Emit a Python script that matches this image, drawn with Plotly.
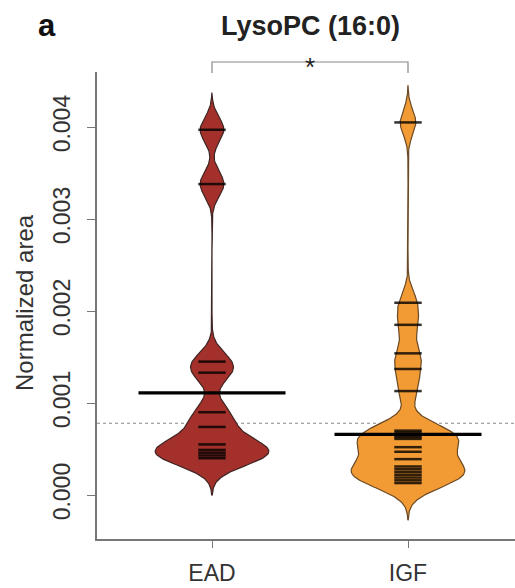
import numpy as np
import plotly.graph_objects as go

categories = ["EAD", "IGF"]
ead_values = [0.00397, 0.00338, 0.00145, 0.00133, 0.00090, 0.00074, 0.00055,
              0.00049, 0.00046, 0.00043, 0.00040]
igf_values = [0.00405, 0.00209, 0.00185, 0.00154, 0.00137, 0.00113,
              0.00070, 0.00068, 0.00065, 0.00063, 0.00061,
              0.00052, 0.00047, 0.00039,
              0.00031, 0.00028, 0.00025, 0.00022, 0.00019, 0.00016, 0.00013]
group_means = [0.00111, 0.00066]
overall_mean = 0.00078
fill_colors = ["#A3302A", "#F29A33"]
border_colors = ["#3e2424", "#6a4a26"]
y_tick_vals = [0.000, 0.001, 0.002, 0.003, 0.004]
y_tick_text = ["0.000", "0.001", "0.002", "0.003", "0.004"]
title_text = "LysoPC (16:0)"
panel_label = "a"
y_title = "Normalized area"
signif = "*"

BW = 0.000135
CUT = 3.0
MAXHALF = 0.29
LINEHALF = 0.07
MEANHALF = 0.375
FONT = "Liberation Sans"

groups = [ead_values, igf_values]
fig = go.Figure()

for i, vals in enumerate(groups):
    v = np.array(vals)
    xc = i + 1
    ys = np.linspace(v.min() - CUT * BW, v.max() + CUT * BW, 500)
    dens = np.exp(-0.5 * ((ys[:, None] - v[None, :]) / BW) ** 2).sum(axis=1)
    half = dens / dens.max() * MAXHALF
    px = np.concatenate([xc + half, (xc - half)[::-1]])
    py = np.concatenate([ys, ys[::-1]])
    fig.add_trace(go.Scatter(x=px, y=py, mode="lines", fill="toself",
                             fillcolor=fill_colors[i],
                             line=dict(color=border_colors[i], width=1.2),
                             hoverinfo="skip", showlegend=False))
    lx, ly = [], []
    for val in v:
        lx += [xc - LINEHALF, xc + LINEHALF, None]
        ly += [val, val, None]
    fig.add_trace(go.Scatter(x=lx, y=ly, mode="lines",
                             line=dict(color="rgba(0,0,0,0.8)", width=2.5),
                             hoverinfo="skip", showlegend=False))
    m = group_means[i]
    fig.add_trace(go.Scatter(x=[xc - MEANHALF, xc + MEANHALF], y=[m, m], mode="lines",
                             line=dict(color="black", width=3.2),
                             hoverinfo="skip", showlegend=False))

fig.add_shape(type="line", xref="paper", x0=0, x1=1, yref="y", y0=overall_mean, y1=overall_mean,
              line=dict(color="#888", width=1, dash="dot"), layer="below")

yb = (539 - 62) / 467
yb2 = (539 - 73) / 467
fig.add_shape(type="path", xref="x", yref="paper",
              path=f"M 1,{yb2} L 1,{yb} L 2,{yb} L 2,{yb2}",
              line=dict(color="#888", width=1.2))
fig.add_annotation(x=1.5, xref="x", y=(539 - 67) / 467, yref="paper", text=signif,
                   showarrow=False, font=dict(size=26, color="#222", family=FONT),
                   yanchor="middle")

fig.add_annotation(x=(310 - 97) / 418, y=(539 - 26) / 467, xref="paper", yref="paper",
                   text=f"<b>{title_text}</b>", showarrow=False, yanchor="middle",
                   font=dict(size=27, color="#222", family=FONT))
fig.add_annotation(x=(36 - 97) / 418, y=(539 - 26) / 467, xref="paper", yref="paper",
                   text=f"<b>{panel_label}</b>", showarrow=False, yanchor="middle",
                   font=dict(size=31, color="#111", family=FONT))
fig.add_annotation(x=(24 - 97) / 418, y=(539 - 303) / 467, xref="paper", yref="paper",
                   text=y_title, textangle=-90, showarrow=False,
                   xanchor="center", yanchor="middle",
                   font=dict(size=24, color="#333", family=FONT))

fig.update_layout(
    width=515, height=588,
    margin=dict(l=97, r=0, t=72, b=49),
    paper_bgcolor="white", plot_bgcolor="white",
    showlegend=False,
    font=dict(family=FONT, color="#333"),
    xaxis=dict(range=[1 - 115 / 196, 1 + 303 / 196], tickvals=[1, 2], ticktext=categories,
               showline=True, linecolor="#777", linewidth=1.5, ticks="outside",
               ticklen=7, tickcolor="#777", showgrid=False, zeroline=False,
               ticklabelstandoff=6,
               tickfont=dict(size=23, color="#333")),
    yaxis=dict(range=[-0.000478, 0.004598], tickvals=y_tick_vals, ticktext=y_tick_text,
               tickangle=-90, showline=True, linecolor="#777", linewidth=1.5,
               ticks="outside", ticklen=8, tickcolor="#777", showgrid=False,
               ticklabelstandoff=8,
               zeroline=False, tickfont=dict(size=23, color="#333")),
)

fig.write_html("out.html")
